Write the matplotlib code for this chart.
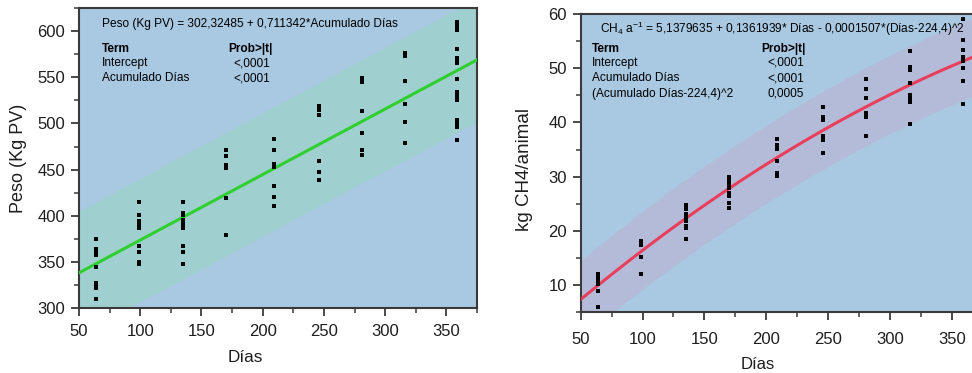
import numpy as np
import matplotlib
matplotlib.use("Agg")
import matplotlib.pyplot as plt
from matplotlib.ticker import MultipleLocator

plt.rcParams['font.family'] = ['Liberation Sans', 'DejaVu Sans']
plt.rcParams['mathtext.fontset'] = 'custom'
plt.rcParams['mathtext.rm'] = 'Liberation Sans'
plt.rcParams['mathtext.it'] = 'Liberation Sans'

# ---- data ----
dias = [64, 99, 135, 170, 209, 246, 281, 316, 359]

peso = [
    [375, 364, 360, 357, 344, 327, 324, 321, 310],
    [415, 401, 394, 391, 388, 386, 367, 360, 350, 348, 347, 349],
    [415, 403, 401, 395, 392, 388, 386, 367, 360, 348],
    [471, 465, 455, 452, 419, 379],
    [483, 471, 456, 453, 432, 420, 410],
    [519, 515, 509, 459, 447, 439],
    [549, 545, 514, 490, 471, 466],
    [577, 573, 546, 521, 502, 479],
    [610, 606, 602, 581, 571, 569, 566, 548, 534, 530, 526, 504, 500, 496, 482],
]

ch4 = [
    [12.1, 11.6, 11.0, 10.6, 10.2, 9.0, 6.0],
    [18.2, 17.9, 17.6, 17.4, 15.2, 12.0],
    [24.8, 24.0, 23.2, 22.5, 21.8, 21.0, 20.5, 18.5],
    [30.0, 29.4, 28.7, 28.0, 27.0, 26.5, 25.2, 24.3],
    [37.0, 35.8, 35.2, 32.9, 30.6, 30.2],
    [42.8, 41.0, 40.4, 37.6, 36.8, 34.4],
    [48.0, 46.2, 44.5, 41.8, 41.0, 37.5],
    [53.2, 50.2, 49.6, 47.3, 45.0, 44.4, 43.8, 39.8],
    [59.0, 55.3, 53.3, 52.0, 51.3, 50.0, 47.7, 43.4],
]

# fitted equations as printed on the chart
peso_coef = (302.32485, 0.711342)
ch4_coef = (5.1379635, 0.1361939, -0.0001507, 224.4)
peso_band = 67.0   # half width of the shaded band (Kg)
ch4_band = 7.2     # half width of the shaded band (kg)

bg = '#a9c9e2'
spine_col = '#3a3a3a'
txt_col = '#1e1e1e'


def flat(xs, groups):
    xx, yy = [], []
    for x, g in zip(xs, groups):
        xx += [x] * len(g)
        yy += g
    return xx, yy


def style_axes(ax):
    ax.set_facecolor(bg)
    for s in ax.spines.values():
        s.set_color(spine_col)
        s.set_linewidth(1.5)
    ax.tick_params(which='major', direction='out', length=6, width=1.3,
                   color=spine_col, labelsize=12, labelcolor=txt_col, pad=4)
    ax.tick_params(which='minor', direction='out', length=3.5, width=1.1,
                   color=spine_col)


fig = plt.figure(figsize=(9.72, 3.73), dpi=100)

# ---------------- left: peso ----------------
ax1 = fig.add_axes([0.0813, 0.175, 0.4095, 0.8027])
style_axes(ax1)
xf = np.linspace(50, 375, 200)
yf = peso_coef[0] + peso_coef[1] * xf
ax1.fill_between(xf, yf - peso_band, yf + peso_band, color='#9fcfcf', lw=0, zorder=1)
ax1.plot(xf, yf, color='#2fcf2f', lw=2.2, zorder=3)
px, py = flat(dias, peso)
ax1.scatter(px, py, s=8, marker='s', color='black', lw=0, zorder=4)
ax1.set_xlim(50, 375)
ax1.set_ylim(300, 625)
ax1.xaxis.set_major_locator(MultipleLocator(50))
ax1.xaxis.set_minor_locator(MultipleLocator(25))
ax1.yaxis.set_major_locator(MultipleLocator(50))
ax1.yaxis.set_minor_locator(MultipleLocator(25))
ax1.tick_params(axis='x', pad=6)
ax1.set_xlabel('Días', fontsize=12.3, color=txt_col)
ax1.xaxis.set_label_coords(0.417, -0.141)
ax1.set_ylabel('Peso (Kg PV)', fontsize=13, color=txt_col)
ax1.yaxis.set_label_coords(-0.13, 0.5)

fs = 8.6
ax1.text(0.057, 0.948, 'Peso (Kg PV) = 302,32485 + 0,711342*Acumulado Días',
         transform=ax1.transAxes, fontsize=fs, va='center', color='black')
ax1.text(0.057, 0.864, 'Term', transform=ax1.transAxes, fontsize=fs,
         va='center', fontweight='bold')
ax1.text(0.374, 0.864, 'Prob>|t|', transform=ax1.transAxes, fontsize=fs,
         va='center', fontweight='bold')
rows1 = ['Intercept', 'Acumulado Días']
vals1 = ['<,0001', '<,0001']
for i, (r, v) in enumerate(zip(rows1, vals1)):
    yy = 0.817 - i * 0.05
    ax1.text(0.057, yy, r, transform=ax1.transAxes, fontsize=fs, va='center')
    ax1.text(0.48, yy, v, transform=ax1.transAxes, fontsize=fs, va='center', ha='right')

# ---------------- right: CH4 ----------------
ax2 = fig.add_axes([0.5974, 0.1627, 0.4136, 0.7997])
style_axes(ax2)
yc = ch4_coef[0] + ch4_coef[1] * xf + ch4_coef[2] * (xf - ch4_coef[3]) ** 2
ax2.fill_between(xf, yc - ch4_band, yc + ch4_band, color='#b3bbd8', lw=0, zorder=1)
ax2.plot(xf, yc, color='#ea3f5c', lw=2.2, zorder=3)
cx, cy = flat(dias, ch4)
ax2.scatter(cx, cy, s=8, marker='s', color='black', lw=0, zorder=4)
ax2.set_xlim(50, 375)
ax2.set_ylim(5, 60)
ax2.xaxis.set_major_locator(MultipleLocator(50))
ax2.xaxis.set_minor_locator(MultipleLocator(25))
ax2.yaxis.set_major_locator(MultipleLocator(10))
ax2.yaxis.set_minor_locator(MultipleLocator(5))
ax2.tick_params(axis='x', pad=8)
ax2.set_xlabel('Días', fontsize=12, color=txt_col)
ax2.xaxis.set_label_coords(0.44, -0.15)
ax2.set_ylabel('kg CH4/animal', fontsize=13.5, color=txt_col)
ax2.yaxis.set_label_coords(-0.119, 0.48)

ax2.text(0.048, 0.950,
         'CH$_4$ a$^{-1}$ = 5,1379635 + 0,1361939* Días - 0,0001507*(Días-224,4)^2',
         transform=ax2.transAxes, fontsize=fs, va='center')
ax2.text(0.027, 0.883, 'Term', transform=ax2.transAxes, fontsize=fs,
         va='center', fontweight='bold')
ax2.text(0.45, 0.883, 'Prob>|t|', transform=ax2.transAxes, fontsize=fs,
         va='center', fontweight='bold')
rows2 = ['Intercept', 'Acumulado Días', '(Acumulado Días-224,4)^2']
vals2 = ['<,0001', '<,0001', '0,0005']
for i, (r, v) in enumerate(zip(rows2, vals2)):
    yy = 0.836 - i * 0.052
    ax2.text(0.027, yy, r, transform=ax2.transAxes, fontsize=fs, va='center')
    ax2.text(0.555, yy, v, transform=ax2.transAxes, fontsize=fs, va='center', ha='right')

fig.savefig('out.png', dpi=100, facecolor='white')
